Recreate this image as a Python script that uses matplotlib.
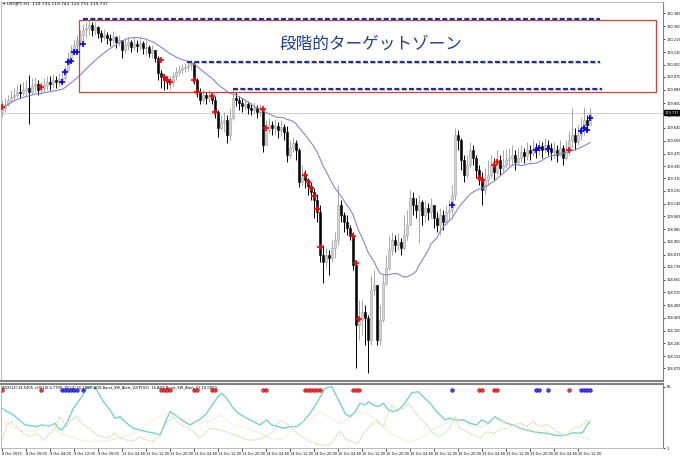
import numpy as np
import pandas as pd
import matplotlib
matplotlib.use("Agg")
import matplotlib.pyplot as plt
import matplotlib.patheffects as pe
from matplotlib.patches import Rectangle

# USDJPY H1 candles (close / high / low), open = previous close
first_open = 119.745
close = [
    119.768, 119.788, 119.820, 119.840, 119.853, 119.872, 119.866, 119.885,
    119.898, 119.872, 119.911, 119.924, 119.885, 119.898, 119.918, 119.937,
    119.924, 119.950, 119.937, 119.957, 119.963, 120.015, 120.093, 120.145,
    120.178, 120.210, 120.243, 120.275, 120.288, 120.308, 120.275, 120.295,
    120.256, 120.230, 120.243, 120.223, 120.210, 120.230, 120.197, 120.210,
    120.145, 120.178, 120.197, 120.165, 120.184, 120.171, 120.191, 120.158,
    120.165, 120.126, 120.145, 120.093, 119.996, 119.970, 119.950, 119.937,
    119.937, 119.976, 120.002, 120.015, 120.028, 120.035, 120.048, 120.054,
    119.950, 119.872, 119.820, 119.853, 119.833, 119.846, 119.820, 119.742,
    119.638, 119.677, 119.690, 119.593, 119.703, 119.833, 119.820, 119.801,
    119.781, 119.794, 119.768, 119.755, 119.768, 119.742, 119.755, 119.528,
    119.625, 119.658, 119.638, 119.651, 119.625, 119.645, 119.612, 119.463,
    119.508, 119.541, 119.495, 119.287, 119.333, 119.300, 119.261, 119.222,
    119.170, 119.092, 118.813, 118.767, 118.813, 118.793, 118.858, 118.910,
    119.138, 119.073, 119.027, 118.988, 118.936, 118.748, 118.358, 118.390,
    118.442, 118.403, 118.260, 118.585, 118.618, 118.260, 118.390, 118.631,
    118.728, 118.845, 118.910, 118.878, 118.897, 118.858, 118.943, 119.008,
    119.183, 119.138, 119.105, 119.157, 119.073, 119.118, 119.092, 119.138,
    119.053, 119.008, 119.073, 119.027, 119.092, 119.105, 119.203, 119.593,
    119.560, 119.430, 119.333, 119.398, 119.495, 119.443, 119.365, 119.313,
    119.235, 119.300, 119.333, 119.398, 119.352, 119.430, 119.378, 119.398,
    119.430, 119.443, 119.463, 119.417, 119.443, 119.482, 119.456, 119.495,
    119.476, 119.508, 119.495, 119.521, 119.495, 119.528, 119.508, 119.482,
    119.495, 119.463, 119.508, 119.443, 119.495, 119.560, 119.593, 119.547,
    119.593, 119.625, 119.690, 119.658, 119.736]
high = [
    119.820, 119.833, 119.853, 119.885, 119.898, 119.918, 119.924, 119.937,
    119.950, 119.983, 119.963, 119.970, 119.950, 119.937, 119.963, 119.976,
    119.976, 119.989, 119.976, 119.996, 120.015, 120.041, 120.132, 120.178,
    120.210, 120.243, 120.275, 120.314, 120.327, 120.340, 120.327, 120.327,
    120.301, 120.275, 120.282, 120.262, 120.249, 120.269, 120.236, 120.243,
    120.210, 120.223, 120.230, 120.210, 120.223, 120.210, 120.223, 120.204,
    120.210, 120.178, 120.178, 120.145, 120.106, 120.015, 119.989, 119.976,
    119.976, 120.002, 120.035, 120.048, 120.054, 120.061, 120.067, 120.080,
    120.067, 119.963, 119.898, 119.885, 119.872, 119.885, 119.866, 119.846,
    119.755, 119.723, 119.742, 119.723, 119.768, 119.885, 119.872, 119.846,
    119.833, 119.827, 119.814, 119.801, 119.807, 119.788, 119.794, 119.768,
    119.690, 119.703, 119.684, 119.697, 119.677, 119.690, 119.664, 119.651,
    119.560, 119.580, 119.560, 119.508, 119.398, 119.365, 119.313, 119.287,
    119.248, 119.209, 119.138, 118.878, 118.858, 118.845, 118.910, 118.962,
    119.268, 119.170, 119.092, 119.073, 119.008, 118.962, 118.767, 118.520,
    118.520, 118.488, 118.423, 118.683, 118.715, 118.618, 118.488, 118.683,
    118.813, 118.936, 118.962, 118.943, 118.956, 118.923, 119.073, 119.105,
    119.235, 119.222, 119.183, 119.203, 119.170, 119.170, 119.151, 119.183,
    119.138, 119.092, 119.118, 119.105, 119.138, 119.170, 119.268, 119.638,
    119.625, 119.573, 119.463, 119.463, 119.547, 119.528, 119.463, 119.398,
    119.352, 119.378, 119.430, 119.463, 119.443, 119.495, 119.463, 119.495,
    119.495, 119.508, 119.528, 119.495, 119.508, 119.528, 119.508, 119.547,
    119.528, 119.560, 119.541, 119.560, 119.547, 119.573, 119.560, 119.541,
    119.547, 119.528, 119.560, 119.528, 119.560, 119.612, 119.768, 119.638,
    119.658, 119.703, 119.775, 119.723, 119.768]
low = [
    119.710, 119.742, 119.781, 119.801, 119.820, 119.840, 119.833, 119.853,
    119.846, 119.664, 119.859, 119.872, 119.853, 119.859, 119.872, 119.885,
    119.885, 119.898, 119.898, 119.911, 119.924, 119.950, 120.002, 120.067,
    120.113, 120.145, 120.171, 120.197, 120.223, 120.243, 120.236, 120.243,
    120.223, 120.197, 120.210, 120.184, 120.171, 120.184, 120.158, 120.171,
    120.093, 120.126, 120.145, 120.132, 120.145, 120.132, 120.145, 120.119,
    120.113, 120.100, 120.093, 120.067, 119.950, 119.898, 119.885, 119.892,
    119.885, 119.911, 119.950, 119.976, 119.989, 120.002, 120.009, 120.015,
    119.924, 119.840, 119.794, 119.801, 119.794, 119.807, 119.794, 119.703,
    119.580, 119.625, 119.612, 119.541, 119.560, 119.690, 119.781, 119.755,
    119.742, 119.755, 119.729, 119.723, 119.729, 119.703, 119.716, 119.482,
    119.560, 119.606, 119.593, 119.599, 119.573, 119.586, 119.560, 119.417,
    119.443, 119.482, 119.430, 119.255, 119.268, 119.248, 119.203, 119.170,
    119.053, 119.027, 118.767, 118.631, 118.728, 118.683, 118.767, 118.793,
    118.878, 119.027, 118.962, 118.943, 118.910, 118.715, 118.078, 118.260,
    118.293, 118.228, 118.046, 118.228, 118.553, 118.228, 118.228, 118.377,
    118.618, 118.715, 118.813, 118.832, 118.845, 118.813, 118.845, 118.910,
    119.008, 119.073, 119.053, 118.891, 119.008, 119.027, 119.040, 119.053,
    118.988, 118.962, 118.943, 118.975, 119.008, 119.040, 119.073, 119.170,
    119.495, 119.365, 119.287, 119.313, 119.378, 119.398, 119.313, 119.268,
    119.138, 119.203, 119.268, 119.313, 119.300, 119.333, 119.333, 119.352,
    119.378, 119.391, 119.398, 119.365, 119.398, 119.417, 119.411, 119.430,
    119.430, 119.456, 119.443, 119.463, 119.443, 119.476, 119.463, 119.430,
    119.443, 119.417, 119.456, 119.398, 119.430, 119.463, 119.508, 119.495,
    119.528, 119.560, 119.593, 119.625, 119.690]

ma_period = 21
last_price = 119.737

# signal arrows (bar, price)
red_sig_bar = [0, 13, 53, 54, 55, 56, 64, 65, 70, 71, 87, 88, 101, 102, 103, 104,
               105, 106, 117, 118, 119, 159, 160, 164, 165, 189]
red_sig_price = [119.775, 119.905, 120.080, 119.970, 119.950, 119.937, 119.950, 119.870,
                 119.846, 119.742, 119.762, 119.638, 119.330, 119.290, 119.248, 119.196,
                 119.110, 118.865, 118.936, 118.760, 118.396, 119.313, 119.300, 119.400,
                 119.420, 119.495]
blue_sig_bar = [20, 21, 22, 23, 24, 25, 27, 150, 178, 179, 182, 193, 194, 195, 196]
blue_sig_price = [119.937, 120.000, 120.067, 120.074, 120.132, 120.132, 120.184, 119.137,
                  119.495, 119.510, 119.500, 119.620, 119.640, 119.625, 119.700]

# target zone
zone_levels = [120.346, 120.067, 119.891]
zone_from = [27, 61.7, 77]
zone_to = [199.3, 199.3, 200]
box_x = (25.7, 218.0)
box_p = (119.872, 120.340)

price_ticks = [120.385, 120.300, 120.215, 120.130, 120.050, 119.970, 119.885, 119.800,
               119.720, 119.640, 119.555, 119.470, 119.390, 119.310, 119.230, 119.145,
               119.065, 118.980, 118.900, 118.815, 118.735, 118.650, 118.570, 118.485,
               118.405, 118.320, 118.240, 118.155, 118.075]

date_labels = ["8 Oct 2015", "8 Oct 20:00", "9 Oct 04:00", "9 Oct 12:00", "9 Oct 20:00",
               "12 Oct 04:00", "12 Oct 12:00", "12 Oct 20:00", "13 Oct 04:00", "13 Oct 12:00",
               "13 Oct 20:00", "14 Oct 04:00", "14 Oct 12:00", "14 Oct 20:00", "15 Oct 04:00",
               "15 Oct 12:00", "15 Oct 20:00", "16 Oct 04:00", "16 Oct 12:00", "16 Oct 20:00",
               "19 Oct 04:00", "19 Oct 12:00", "19 Oct 20:00", "20 Oct 04:00", "20 Oct 12:00"]

# ADX sub window (bar, value)
adx_bar = [0, 3.8, 7.7, 11.6, 13.2, 16, 17.7, 18.8, 19.9, 21.6, 23.8, 26.6, 28.2, 29.9,
           31.6, 33.8, 36, 37.7, 39.3, 41.6, 43.8, 46, 48.2, 51, 52.7, 54.3, 56, 57.7,
           59.9, 62.7, 66, 68.2, 71.6, 73.2, 74.9, 77.1, 78.8, 81.6, 86, 88.2, 89.9, 92.1,
           93.8, 96, 98.2, 100.4, 102.7, 104.9, 107.7, 109.9, 111, 112.7, 114.3, 116,
           117.7, 119.3, 121, 122.1, 123.8, 125.4, 127.1, 128.8, 130.4, 132.1, 133.8,
           136.6, 138.8, 140.4, 142.7, 144.9, 147.7, 149.3, 151, 153.8, 156, 158.2, 159.9,
           162.1, 164.3, 166, 168.2, 170.4, 172.7, 174.9, 177.1, 179.3, 181.6, 183.8, 186,
           188.2, 190.4, 192.7, 193.8, 195.4, 196]
adx_val = [36.1, 30.2, 21.4, 19.9, 21.4, 20.5, 22.9, 18.4, 16.9, 22.9, 36.1, 46.4, 53.8,
           55.3, 52.3, 42.0, 34.6, 27.3, 28.7, 22.9, 18.4, 16.9, 15.4, 14.0, 12.5, 22.9,
           33.1, 30.2, 25.8, 21.4, 26.4, 31.7, 45.0, 49.4, 45.0, 36.1, 31.7, 27.3, 21.4,
           25.8, 21.4, 19.9, 18.4, 19.9, 19.9, 24.3, 31.7, 40.6, 53.8, 55.3, 49.4, 40.6,
           31.7, 28.7, 33.1, 40.6, 39.1, 42.0, 39.1, 37.6, 40.6, 34.6, 33.1, 34.6, 39.1,
           49.9, 50.8, 46.4, 40.6, 33.1, 25.8, 27.3, 25.8, 25.8, 22.9, 21.4, 25.8, 22.9,
           28.7, 25.8, 22.9, 21.4, 18.4, 16.9, 15.4, 14.5, 14.0, 12.5, 11.9, 12.5, 14.5,
           14.0, 15.4, 22.9, 24.3]
pdi_bar = [0, 1.6, 3.2, 4.9, 7.1, 9.3, 11.6, 13.8, 16, 17.7, 19.3, 21.6, 23.2, 24.9, 27.1,
           29.3, 31.6, 34.9, 37.7, 39.3, 41.6, 43.8, 46, 48.2, 50.4, 52.7, 54.9, 57.1, 59.3,
           61.6, 63.8, 66, 69.3, 72.7, 76, 79.3, 81.6, 84.9, 88.2, 90.4, 92.7, 94.9, 97.1,
           99.3, 102.7, 106, 109.3, 111.6, 112.7, 114.9, 117.1, 118.8, 120.4, 122.7, 124.9,
           127.1, 128.8, 129.9, 131.6, 133.8, 135.4, 137.1, 139.3, 141.6, 143.8, 146, 149.3,
           151, 152.7, 154.9, 157.1, 159.3, 161.6, 163.8, 166, 168.2, 170.4, 172.7, 174.9,
           177.1, 179.3, 181.6, 183.8, 186, 188.2, 190.4, 192.7, 194.9, 196]
pdi_val = [8.1, 21.4, 24.3, 19.9, 14.0, 11.0, 14.0, 8.1, 14.0, 18.4, 28.7, 19.9, 25.8,
           28.7, 21.4, 18.4, 12.5, 9.6, 14.0, 9.6, 8.1, 7.2, 11.0, 8.1, 6.6, 12.5, 22.9,
           28.7, 21.4, 19.9, 15.4, 9.6, 18.4, 16.9, 14.0, 11.0, 8.1, 8.1, 11.0, 15.4, 25.8,
           22.9, 16.9, 12.5, 6.6, 3.7, 3.7, 12.5, 15.4, 8.1, 6.6, 5.1, 14.0, 19.9, 25.8,
           19.9, 33.1, 39.1, 34.6, 36.1, 40.6, 34.6, 27.3, 21.4, 14.0, 11.0, 18.4, 28.7,
           18.4, 15.4, 12.5, 9.6, 15.4, 14.0, 16.9, 18.4, 21.4, 22.9, 19.9, 24.3, 19.9,
           21.4, 18.4, 14.0, 12.5, 18.4, 19.9, 25.8, 24.3]
mdi_bar = [0, 3.3, 6, 10.4, 12.7, 16, 19.3, 22.7, 26, 30.4, 34.9, 39.3, 43.8, 47.1, 50.4,
           54.9, 58.2, 61.6, 66, 70.4, 72.7, 77.1, 81.6, 84.9, 88.2, 91.6, 94.9, 97.1,
           101.6, 106, 110.4, 112.7, 114.9, 117.1, 119.3, 121.6, 123.8, 125.4, 127.1,
           129.3, 131.6, 133.8, 136, 138.2, 140.4, 142.7, 144.9, 147.1, 149.3, 151.6,
           153.8, 156, 158.2, 160.4, 162.7, 164.9, 167.1, 169.3, 171.6, 173.8, 176, 178.2,
           180.4, 182.7, 184.9, 187.1, 190.4, 192.7, 194.9, 196]
mdi_val = [25.8, 19.9, 16.9, 15.4, 18.4, 22.9, 14.0, 11.0, 8.1, 6.6, 7.5, 9.6, 14.0,
           19.9, 25.8, 31.7, 28.7, 25.8, 22.9, 25.8, 30.2, 21.4, 18.4, 15.4, 11.0, 8.1,
           11.0, 19.9, 25.8, 33.1, 25.8, 22.9, 25.8, 28.7, 33.1, 31.7, 27.3, 22.9, 19.9,
           14.0, 11.0, 8.1, 6.6, 8.1, 11.0, 15.4, 19.9, 21.4, 25.8, 25.8, 22.9, 21.4, 19.9,
           19.9, 22.9, 25.8, 24.3, 22.9, 19.9, 18.4, 16.9, 15.4, 16.9, 14.0, 14.0, 12.5,
           12.5, 11.0, 9.6, 8.1]

indicator_label = ("ADX(14) 34.5405 +DI(14) 4.7790 -DI(14) 16.1808  "
                   "ADX-Burst_SW_Alert_V2(P155)  16 ADX-Burst_SW_Alert_V2 10.0000")
header = "USDJPY,H1  119.732 119.743 119.731 119.737"

# ------------------------------------------------------------------
c = np.array(close)
o = np.concatenate([[first_open], c[:-1]])
h = np.maximum(np.array(high), np.maximum(o, c))
l = np.minimum(np.array(low), np.minimum(o, c))
x = np.arange(len(c))
ma = pd.Series(c).rolling(ma_period, min_periods=1).mean()

tiny = 2.5
fig = plt.figure(figsize=(6.8, 4.57), dpi=100)
ax = fig.add_axes([1 / 680, 1 - 381 / 457, 662 / 680, 379 / 457])
ax2 = fig.add_axes([1 / 680, 1 - 448 / 457, 662 / 680, 64 / 457])

up = c >= o
ax.vlines(x[up], l[up], h[up], color='#a8a8a8', lw=0.7, zorder=2)
ax.vlines(x[~up], l[~up], h[~up], color='black', lw=0.7, zorder=2)
ax.bar(x[up], np.maximum(c - o, 0.002)[up], bottom=o[up], width=0.62,
       color='#d4d4d4', edgecolor='#a0a0a0', lw=0.4, zorder=3)
ax.bar(x[~up], (o - c)[~up], bottom=c[~up], width=0.62,
       color='black', edgecolor='black', lw=0.4, zorder=3)

ax.plot(x, ma, color='#8585d0', lw=0.8, zorder=4)
ax.axhline(last_price, color='#d0d0d0', lw=0.7, zorder=1)

ax.plot(red_sig_bar, red_sig_price, ls='none', marker='+', color='red', ms=4.5, mew=1.2, zorder=6)
ax.plot(blue_sig_bar, blue_sig_price, ls='none', marker='+', color='blue', ms=4.5, mew=1.2, zorder=6)

ax.add_patch(Rectangle((box_x[0], box_p[0]), box_x[1] - box_x[0], box_p[1] - box_p[0],
                       fill=False, ec='#e03a3a', lw=0.9, zorder=5))
for lv, x0, x1 in zip(zone_levels, zone_from, zone_to):
    ax.plot([x0, x1], [lv, lv], color='#1c2f8c', lw=1.6, ls=(0, (2.2, 1.1)), zorder=7,
            path_effects=[pe.SimpleLineShadow(offset=(0.8, -0.8), shadow_color='grey', alpha=0.35),
                          pe.Normal()])

ax.text((box_x[0] + box_x[1]) / 2 + 1, 120.18, "段階的ターゲットゾーン", color='#1f3f9c',
        fontsize=12, ha='center', va='center', family=['Noto Sans CJK JP', 'DejaVu Sans'])

ax.set_xlim(-0.33, 220.33)
ax.set_ylim(117.9935, 120.457)
ax.yaxis.tick_right()
ax.set_yticks(price_ticks)
ax.set_yticklabels([f"{v:.3f}" for v in price_ticks])
ax.tick_params(axis='y', labelsize=tiny, length=1.5, width=0.5, pad=1, colors='black')
ax.set_xticks([])
for s in ['left', 'top', 'bottom']:
    ax.spines[s].set_color('#b0b0b0')
    ax.spines[s].set_linewidth(0.6)
ax.spines['right'].set_color('#808080')
ax.spines['bottom'].set_linewidth(1.5)
ax.spines['bottom'].set_color('#808080')

ax.text(1.002, last_price, f"{last_price:.3f}", transform=ax.get_yaxis_transform(),
        fontsize=tiny, color='white', va='center', ha='left',
        bbox=dict(boxstyle='square,pad=0.15', fc='black', ec='black'))
fig.text(0.004, 0.995, "\u25be " + header, fontsize=3.2, va='top', ha='left')

# ADX window
ax2.plot(adx_bar, adx_val, color='#76d3cc', lw=1.0)
ax2.plot(pdi_bar, pdi_val, color='#c2dc95', lw=0.9, ls=(0, (1, 1)))
ax2.plot(mdi_bar, mdi_val, color='#f3e3bf', lw=0.9, ls=(0, (1, 1)))
dot_level = 52.3
ax2.plot(red_sig_bar, [dot_level] * len(red_sig_bar), ls='none', marker='o', ms=2.6,
         mfc='#ff3030', mec='#c00000', mew=0.4)
ax2.plot(blue_sig_bar, [dot_level] * len(blue_sig_bar), ls='none', marker='o', ms=2.6,
         mfc='#4040ff', mec='#0000c0', mew=0.4)
ax2.text(0.002, 0.985, indicator_label, transform=ax2.transAxes, fontsize=2.6,
         va='top', ha='left')
ax2.set_xlim(-0.33, 220.33)
ax2.set_ylim(1, 57.6)
ax2.yaxis.tick_right()
ax2.set_yticks([55, 1])
ax2.set_yticklabels(["55", "1"])
ax2.tick_params(axis='y', labelsize=tiny, length=1.5, width=0.5, pad=1)
ax2.set_xticks(np.arange(len(date_labels)) * 8)
ax2.set_xticklabels(date_labels, ha='left')
ax2.tick_params(axis='x', labelsize=tiny, length=2, width=0.5, pad=1)
for s in ['left', 'bottom']:
    ax2.spines[s].set_color('#b0b0b0')
    ax2.spines[s].set_linewidth(0.6)
ax2.spines['top'].set_color('#808080')
ax2.spines['top'].set_linewidth(1.5)
ax2.spines['right'].set_color('#808080')

fig.savefig("out.png", dpi=100)
